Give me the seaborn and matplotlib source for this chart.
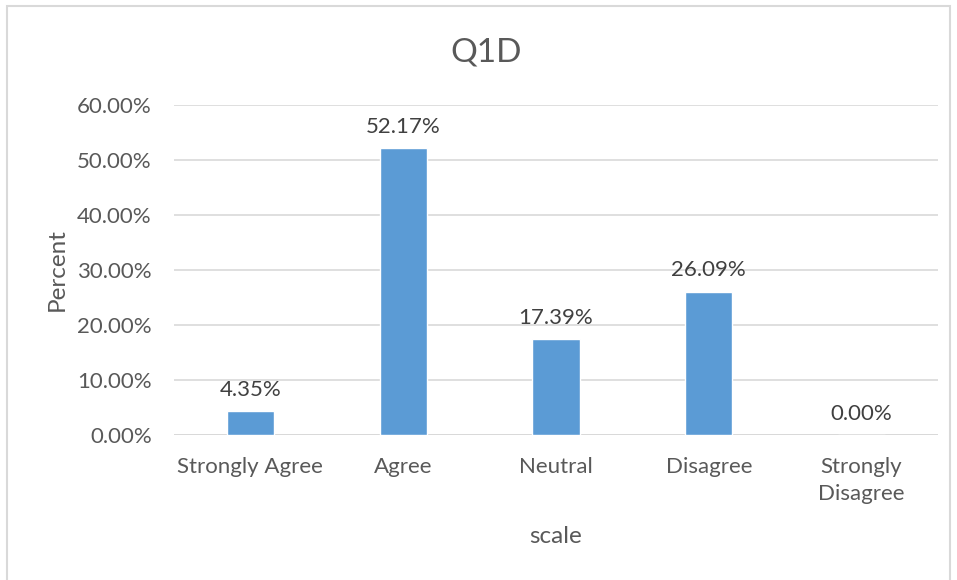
import matplotlib
matplotlib.use("Agg")
import matplotlib.pyplot as plt
from matplotlib.patches import Rectangle
from matplotlib.ticker import FuncFormatter
import seaborn as sns
import pandas as pd

categories = ["Strongly Agree", "Agree", "Neutral", "Disagree", "Strongly\nDisagree"]
percent = [4.35, 52.17, 17.39, 26.09, 0.00]
y_ticks = [0, 10, 20, 30, 40, 50, 60]

sns.set_theme(style="white")
plt.rcParams["font.family"] = ["Lato", "DejaVu Sans"]

TEXT = "#595959"
GRID = "#d9d9d9"
BAR = "#5b9bd5"

df = pd.DataFrame({"scale": categories, "Percent": percent})

fig = plt.figure(figsize=(9.57, 5.80), dpi=100)
ax = fig.add_axes([174 / 957, 1 - 435 / 580, 764 / 957, 330 / 580])

sns.barplot(data=df, x="scale", y="Percent", color=BAR, width=0.31,
            saturation=1, ax=ax, zorder=3)

ax.set_ylim(0, 60)
ax.set_yticks(y_ticks)
ax.yaxis.set_major_formatter(FuncFormatter(lambda v, _: f"{v:.2f}%"))
ax.grid(axis="y", color=GRID, linewidth=1.2, zorder=0)
for s in ax.spines.values():
    s.set_visible(False)
ax.axhline(0, color=GRID, linewidth=1.4, zorder=2)

ax.tick_params(axis="y", length=0, pad=16, labelsize=16, labelcolor=TEXT)
ax.tick_params(axis="x", length=0, pad=16, labelsize=16, labelcolor=TEXT)
for lbl in ax.get_xticklabels():
    lbl.set_linespacing(1.4)

for i, v in enumerate(percent):
    ax.annotate(f"{v:.2f}%", (i, v), xytext=(0, 8), textcoords="offset points",
                ha="center", va="bottom", fontsize=16, color="#404040")

ax.set_xlabel("scale", fontsize=17.5, color=TEXT)
ax.set_ylabel("Percent", fontsize=17.5, color=TEXT)
ax.xaxis.set_label_coords(0.5, -0.276)
ax.yaxis.set_label_coords(-0.139, 0.5)

fig.text(486 / 957, 1 - 52 / 580, "Q1D", ha="center", va="center",
         fontsize=24, color=TEXT)

fig.patches.append(Rectangle((7 / 957, -0.01), 943 / 957, 1 - 6 / 580 + 0.01,
                             transform=fig.transFigure, fill=False,
                             edgecolor=GRID, linewidth=1.5))

fig.savefig("out.png", dpi=100)
